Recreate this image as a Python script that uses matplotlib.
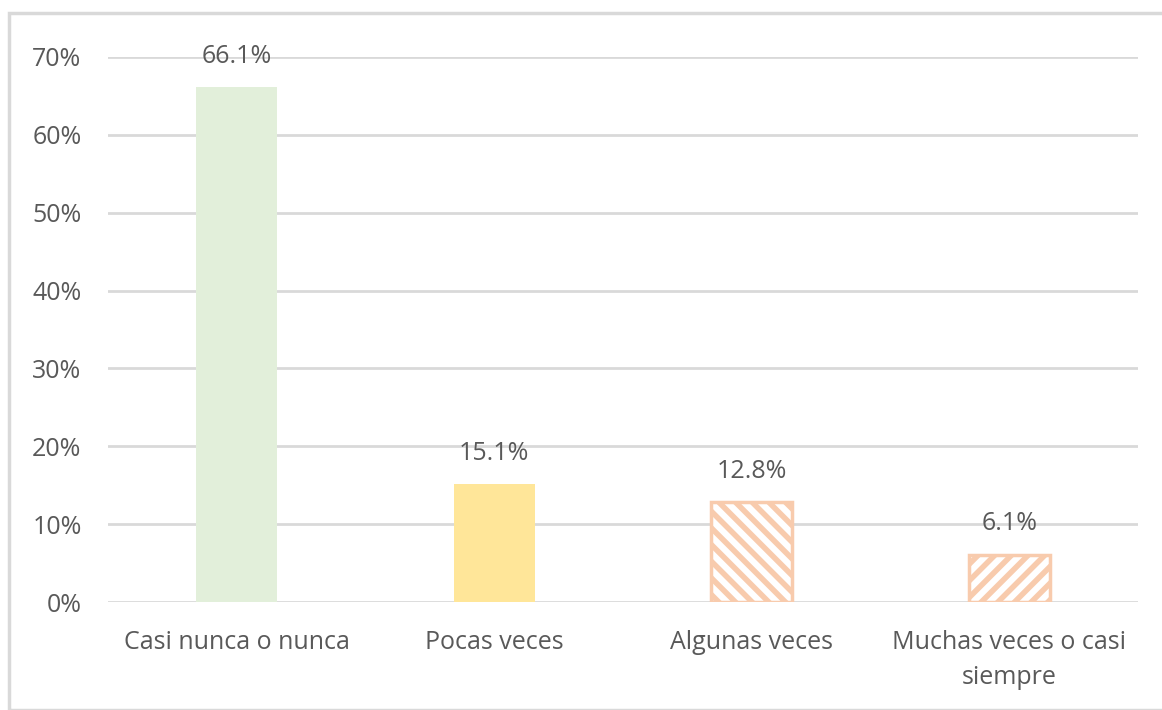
import matplotlib
matplotlib.use("Agg")
import matplotlib.pyplot as plt
from matplotlib.patches import Rectangle
import matplotlib.ticker as mtick

categories = ["Casi nunca o nunca", "Pocas veces", "Algunas veces", "Muchas veces o casi\nsiempre"]
values = [66.1, 15.1, 12.8, 6.1]
labels = ["66.1%", "15.1%", "12.8%", "6.1%"]
yticks = [0, 10, 20, 30, 40, 50, 60, 70]

plt.rcParams['font.family'] = ['Open Sans', 'DejaVu Sans']
plt.rcParams['hatch.linewidth'] = 4.0
plt.rcParams['hatch.color'] = '#F8CBAD'

fig = plt.figure(figsize=(11.62, 7.10), dpi=100)
fig.patches.append(Rectangle((9/1162, 0), 1.2, 1 - 13/710, transform=fig.transFigure,
                             fill=False, edgecolor='#D9D9D9', linewidth=2.5, zorder=0))
ax = fig.add_axes([108/1162, 1 - 602/710, (1138-108)/1162, (602-57)/710])

x = list(range(len(categories)))
w = 0.315
ax.bar(x[0], values[0], width=w, color='#E2EFDA', zorder=3)
ax.bar(x[1], values[1], width=w, color='#FFE699', zorder=3)
ax.bar(x[2], values[2], width=w, facecolor='white', edgecolor='#F8CBAD', hatch='\\\\', linewidth=2.5, zorder=3)
ax.bar(x[3], values[3], width=w, facecolor='white', edgecolor='#F8CBAD', hatch='//', linewidth=2.5, zorder=3)

for xi, v, lab in zip(x, values, labels):
    ax.annotate(lab, (xi, v), xytext=(0, 13.5), textcoords='offset points', ha='center', va='bottom',
                fontsize=18, color='#595959')

ax.set_xlim(-0.5, 3.5)
ax.set_ylim(0, 70)
ax.set_yticks(yticks)
ax.yaxis.set_major_formatter(mtick.FuncFormatter(lambda v, p: f"{int(v)}%"))
ax.set_xticks(x)
ax.set_xticklabels(categories, linespacing=1.55)
ax.tick_params(axis='both', length=0, labelsize=18, labelcolor='#595959')
ax.tick_params(axis='y', pad=19)
ax.tick_params(axis='x', pad=20)
ax.grid(axis='y', color='#D9D9D9', linewidth=2, zorder=0)
ax.set_axisbelow(True)
for s in ax.spines.values():
    s.set_visible(False)

fig.savefig("out.png", dpi=100)
